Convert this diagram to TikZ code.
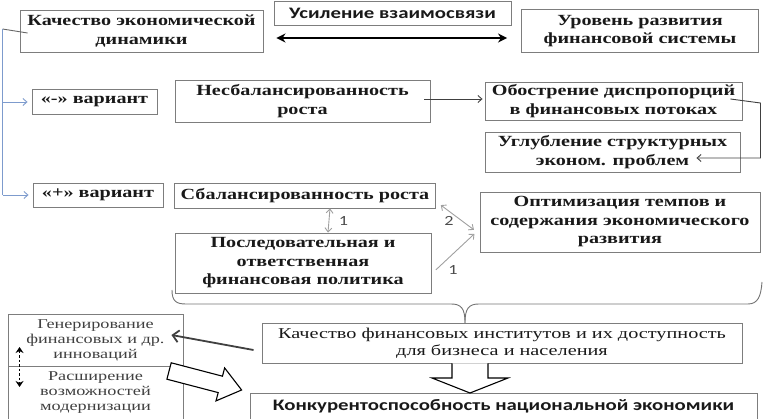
\documentclass[tikz,border=0pt]{standalone}
\usepackage{fontspec}
\setmainfont{Liberation Serif}
\newfontfamily\bserif[FakeStretch=1.3]{Liberation Serif}
\newfontfamily\rserif[FakeStretch=1.35]{Liberation Serif}
\newfontfamily\csans[FakeStretch=1.3]{Carlito}
\usetikzlibrary{arrows.meta,calc}
\definecolor{boxgray}{RGB}{125,125,125}
\definecolor{txt}{RGB}{25,25,25}
\definecolor{bluel}{RGB}{125,155,205}
\definecolor{lgray}{RGB}{160,160,160}
\tikzset{
  box/.style={draw=boxgray, line width=0.9pt, inner sep=0pt, align=center, text=txt,
    font=\bserif\bfseries\fontsize{15.5}{18.5}\selectfont},
  rbox/.style={box, font=\rserif\fontsize{15}{17}\selectfont},
  sbox/.style={box, font=\rserif\fontsize{13.5}{15}\selectfont, text=black!75},
  hbox/.style={box, font=\csans\bfseries\fontsize{16}{18}\selectfont},
  thinarr/.style={draw=lgray, line width=0.9pt, -{Straight Barb[length=4pt,width=7pt]}},
  thinbi/.style={draw=lgray, line width=0.9pt, {Straight Barb[length=4pt,width=7pt]}-{Straight Barb[length=4pt,width=7pt]}},
  darr/.style={draw=black!75, line width=0.9pt, -{Straight Barb[length=4pt,width=7pt]}},
  bluearr/.style={draw=bluel, line width=0.9pt, -{Straight Barb[length=4pt,width=7pt]}},
  numlab/.style={font=\csans\fontsize{14}{14}\selectfont, text=black!70},
  block/.style={draw=black, line width=1.1pt, fill=white, line join=miter}
}
\begin{document}
\begin{tikzpicture}[x=1pt,y=-1pt]
\useasboundingbox (0,0) rectangle (763,419);

% top row
\node[box, minimum width=243pt, minimum height=42pt] (kach) at (141.5,31) {Качество экономической\\динамики};
\node[hbox, minimum width=237pt, minimum height=24pt] (usil) at (392.5,13) {Усиление взаимосвязи};
\node[box, minimum width=237pt, minimum height=43pt] (urov) at (640,31) {Уровень развития\\финансовой системы};

% variants
\node[box, minimum width=125pt, minimum height=25pt] (minus) at (94.5,102) {«-» вариант};
\node[box, minimum width=255pt, minimum height=42pt] (nesb) at (302.5,101) {Несбалансированность\\роста};
\node[box, minimum width=257pt, minimum height=38pt] (obostr) at (613.5,101) {Обострение диспропорций\\в финансовых потоках};
\node[box, minimum width=255pt, minimum height=40pt] (uglub) at (612.5,152) {Углубление структурных\\эконом. проблем};

\node[box, minimum width=130pt, minimum height=24pt] (plus) at (98,195) {«+» вариант};
\node[box, minimum width=261pt, minimum height=25pt] (sbal) at (305,195.5) {Сбалансированность роста};
\node[box, minimum width=256pt, minimum height=60pt] (posl) at (303,263) {Последовательная и\\ответственная\\финансовая политика};
\node[box, minimum width=280pt, minimum height=60pt] (optim) at (620,222) {Оптимизация темпов и\\содержания экономического\\развития};

% bottom
\node[rbox, minimum width=480pt, minimum height=40pt] (kachfin) at (502,343) {Качество финансовых институтов и их доступность\\для бизнеса и населения};
\node[sbox, minimum width=175pt, minimum height=52pt] (gener) at (95.5,340) {Генерирование\\финансовых и др.\\инноваций};
\node[sbox, minimum width=175pt, minimum height=53pt] (rassh) at (95.5,392.5) {Расширение\\возможностей\\модернизации};
\node[hbox, minimum width=507pt, minimum height=26pt] (konk) at (503.5,406) {Конкурентоспособность национальной экономики};

% main double arrow
\draw[line width=2.2pt, {Stealth[length=9pt,width=9pt]}-{Stealth[length=9pt,width=9pt]}]
  ([xshift=13pt,yshift=-7pt]kach.east) -- ([xshift=-14pt,yshift=-7pt]urov.west);

% left bracket lines
\coordinate (lk) at ($(kach.west)+(-17,-2)$);
\draw[draw=black!60, line width=0.9pt] ([xshift=8pt,yshift=-2pt]kach.west) -- (lk);
\draw[draw=bluel, line width=0.9pt] (lk) -- (lk |- plus.west);
\draw[bluearr, shorten >=4pt] (lk |- minus.west) -- (minus.west);
\draw[bluearr, shorten >=4pt] (lk |- plus.west) -- (plus.west);

% nesb -> obostr
\draw[darr, shorten >=2pt] ([xshift=-6pt,yshift=2pt]nesb.east) -- ([yshift=2pt]obostr.west);
% obostr -> uglub
\coordinate (ob1) at ($(obostr.east)+(18,2)$);
\draw[darr] ([xshift=-12pt,yshift=2pt]obostr.east) -- (ob1) |- ($(uglub.east)+(-44,6)$);

% numbered connectors
\draw[thinbi] ([xshift=25pt]sbal.south) -- ([xshift=25pt]posl.north)
  node[midway, right=6pt, numlab] {1};
\draw[thinbi, shorten <=6pt, shorten >=7pt] ([yshift=-6pt]sbal.east) -- ([yshift=-12pt]optim.west)
  node[pos=0.3, below=1pt, numlab] {2};
\draw[thinarr, shorten <=6pt, shorten >=7pt] ([yshift=-11pt]posl.east) -- ([yshift=-7pt]optim.west)
  node[pos=0.45, below=8pt, numlab] {1};

% brace
\coordinate (bt) at (465,323);
\draw[draw=black!55, line width=0.9pt]
  (172,290) .. controls (172,301) and (176,304) .. (186,304) -- (451,304)
  .. controls (461,304) and (465,308) .. (bt);
\draw[draw=black!55, line width=0.9pt]
  (bt) .. controls (465,308) and (469,304) .. (479,304) -- (748,304)
  .. controls (758,304) and (761,296) .. (762,282);

% kachfin -> gener
\draw[draw=black!75, line width=1.8pt, -{Straight Barb[length=6pt,width=12pt]}]
  ([xshift=-8pt,yshift=-7pt]kachfin.west) -- ([xshift=-12pt,yshift=5pt]gener.east);

% dashed vertical
\draw[black, line width=1.3pt, dash pattern=on 2.5pt off 2pt, {Stealth[length=6pt,width=8pt]}-{Stealth[length=6pt,width=8pt]}]
  ($(gener.west)+(12,7)$) -- ($(rassh.west)+(12,-5.5)$);

% diagonal block arrow
\draw[block] (171.2,362.8) -- (222.5,376.2) -- (224.6,367.9) -- (241.6,390)
  -- (216,400.9) -- (218.2,392.6) -- (166.9,379.2) -- cycle;

% down block arrow
\draw[block] (452,363.5) -- (452,378) -- (432,378) -- (470,393) -- (508,378) -- (488,378) -- (488,363.5);
\end{tikzpicture}
\end{document}
